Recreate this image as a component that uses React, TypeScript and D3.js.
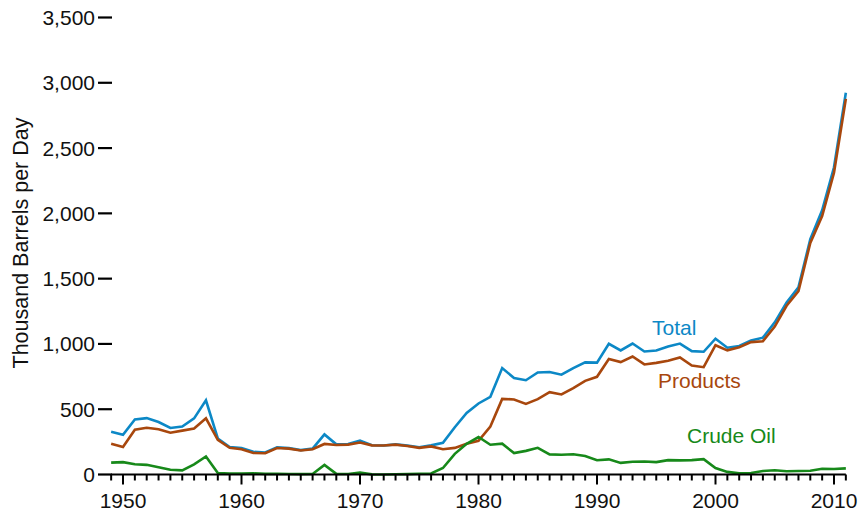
import React from "react";
import * as d3 from "d3";

const years: number[] = d3.range(1949, 2012);

const totalExports: number[] = [
  327, 305, 422, 432, 402, 356, 368, 430, 568, 276,
  211, 202, 174, 168, 208, 202, 187, 198, 307, 231,
  233, 259, 224, 222, 231, 221, 209, 223, 243, 362,
  471, 544, 595, 815, 739, 722, 781, 785, 764, 815,
  859, 857, 1001, 950, 1003, 942, 949, 981, 1003, 945,
  940, 1040, 971, 984, 1027, 1048, 1165, 1317, 1433, 1802,
  2024, 2353, 2924,
];

const productExports: number[] = [
  236, 210, 343, 358, 347, 320, 336, 352, 430, 265,
  204, 194, 165, 163, 203, 198, 184, 194, 234, 226,
  229, 245, 223, 222, 229, 218, 204, 215, 193, 204,
  236, 258, 367, 579, 575, 541, 577, 631, 613, 661,
  717, 748, 885, 861, 904, 843, 855, 871, 896, 835,
  822, 990, 951, 975, 1014, 1021, 1133, 1292, 1405, 1773,
  1980, 2311, 2877,
];

const crudeExports: number[] = [
  91, 95, 79, 74, 55, 36, 32, 78, 138, 11,
  7, 8, 9, 5, 5, 4, 3, 4, 73, 5,
  4, 14, 1, 0, 2, 3, 6, 8, 50, 158,
  235, 287, 228, 236, 164, 181, 204, 154, 151, 155,
  142, 109, 116, 89, 98, 99, 95, 110, 108, 110,
  118, 50, 20, 9, 12, 27, 32, 25, 27, 29,
  44, 42, 47,
];

const yTicks: number[] = [0, 500, 1000, 1500, 2000, 2500, 3000, 3500];
const xLabelYears: number[] = [1950, 1960, 1970, 1980, 1990, 2000, 2010];

const seriesNames = ["Total", "Products", "Crude Oil"];
const seriesColors = ["#0c88c6", "#a8470d", "#17891a"];

const W = 860;
const H = 513;
const FONT = "'Liberation Sans', Arial, Helvetica, sans-serif";

export default function App() {
  const x = d3.scaleLinear().domain([1950, 2010]).range([123, 834]);
  const y = d3.scaleLinear().domain([0, 3500]).range([474.5, 17.5]);

  const seriesData = [totalExports, productExports, crudeExports];
  const lineGen = d3
    .line<number>()
    .x((_, i) => x(years[i]))
    .y((d) => y(d));

  const labelPos = [
    { x: 652, y: 335 },
    { x: 658, y: 388 },
    { x: 687, y: 443 },
  ];

  const x0 = x(years[0]);
  const x1 = x(years[years.length - 1]);
  const yBase = y(0);

  return (
    <svg
      width={W}
      height={H}
      style={{ position: "absolute", left: 0, top: 0, background: "#fff" }}
      fontFamily={FONT}
    >
      {yTicks.map((t) => (
        <g key={t}>
          <line x1={98} x2={112} y1={y(t)} y2={y(t)} stroke="#000" strokeWidth={2.2} />
          <text
            x={95}
            y={y(t)}
            dy="0.36em"
            textAnchor="end"
            fontSize={21}
            fill="#111"
          >
            {d3.format(",")(t)}
          </text>
        </g>
      ))}
      <text
        transform={`translate(28,243) rotate(-90)`}
        textAnchor="middle"
        fontSize={21.5}
        fill="#111"
      >
        Thousand Barrels per Day
      </text>

      {seriesData.map((s, i) => (
        <path
          key={seriesNames[i]}
          d={lineGen(s) || ""}
          fill="none"
          stroke={seriesColors[i]}
          strokeWidth={2.6}
          strokeLinejoin="miter"
        />
      ))}

      <line x1={x0} x2={x1} y1={yBase} y2={yBase} stroke="#000" strokeWidth={2.2} />
      {years.map((yr) => (
        <line
          key={yr}
          x1={x(yr)}
          x2={x(yr)}
          y1={yBase}
          y2={yBase + (yr % 10 === 0 ? 10 : 6)}
          stroke="#000"
          strokeWidth={2}
        />
      ))}
      {xLabelYears.map((yr) => (
        <text key={yr} x={x(yr)} y={508} textAnchor="middle" fontSize={21} fill="#111">
          {yr}
        </text>
      ))}

      {seriesNames.map((n, i) => (
        <text
          key={n}
          x={labelPos[i].x}
          y={labelPos[i].y}
          fontSize={21}
          fill={seriesColors[i]}
        >
          {n}
        </text>
      ))}
    </svg>
  );
}
